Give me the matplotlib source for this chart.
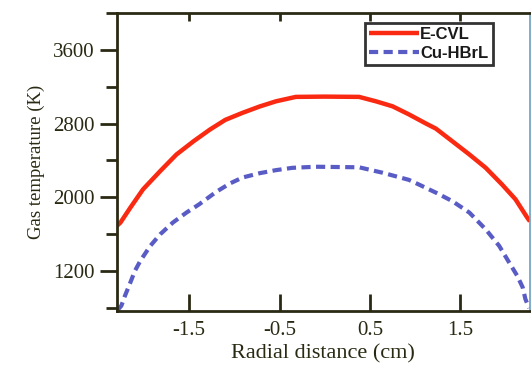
import numpy as np
import matplotlib
matplotlib.use('Agg')
import matplotlib.pyplot as plt
from matplotlib.ticker import MultipleLocator

# Values
r_ecvl = [-2.30, -2.26, -2.15, -2.01, -1.82, -1.64, -1.45, -1.27, -1.10, -0.91,
          -0.72, -0.54, -0.32, 0.00, 0.38, 0.57, 0.75, 0.93, 1.12, 1.23,
          1.41, 1.60, 1.78, 1.96, 2.11, 2.24, 2.27]
t_ecvl = [1690, 1727, 1889, 2087, 2285, 2465, 2609, 2735, 2840, 2916,
          2985, 3041, 3089, 3092, 3089, 3040, 2987, 2900, 2800, 2745,
          2609, 2465, 2321, 2141, 1979, 1781, 1740]

r_cu = [-2.29, -2.25, -2.21, -2.15, -2.10, -2.04, -1.93, -1.82, -1.68, -1.53,
        -1.39, -1.20, -1.05, -0.91, -0.72, -0.54, -0.36, -0.10, 0.38, 0.64,
        0.93, 1.04, 1.23, 1.41, 1.60, 1.78, 1.93, 2.04, 2.13, 2.19,
        2.22, 2.26]
t_cu = [780, 825, 933, 1078, 1203, 1312, 1474, 1600, 1727, 1835,
        1924, 2060, 2150, 2215, 2262, 2295, 2320, 2332, 2326, 2267,
        2190, 2140, 2051, 1960, 1835, 1654, 1474, 1294, 1149, 1024,
        897, 800]

xticks = [-1.5, -0.5, 0.5, 1.5]
yticks = [1200, 2000, 2800, 3600]

serif = 'Liberation Serif'
dark = '#2a2a14'

fig = plt.figure(figsize=(5.31, 3.67), dpi=100)
ax = fig.add_axes([0.220, 0.153, 0.778, 0.812])

ax.plot(r_ecvl, t_ecvl, color='#fa2a12', lw=3.2, label='E-CVL',
        solid_capstyle='butt', solid_joinstyle='round')
ax.plot(r_cu, t_cu, color='#5a5cc6', lw=3.0, dashes=(2.2, 1.3),
        label='Cu-HBrL')

ax.set_xlim(-2.3, 2.27)
ax.set_ylim(770, 4000)
ax.set_xticks(xticks)
ax.set_xticklabels([str(v) for v in xticks])
ax.set_yticks(yticks)
ax.yaxis.set_minor_locator(MultipleLocator(400))

for s in ['left', 'bottom', 'top']:
    ax.spines[s].set_color(dark)
    ax.spines[s].set_linewidth(2.0)
ax.spines['right'].set_color('#6aa0c0')
ax.spines['right'].set_linewidth(1.2)

ax.tick_params(axis='x', direction='in', length=12, width=2, color=dark,
               pad=7, labelsize=15, labelcolor=dark)
ax.tick_params(axis='y', which='major', direction='out', length=12, width=2,
               color=dark, pad=4, labelsize=15, labelcolor=dark)
ax.tick_params(axis='y', which='minor', direction='out', length=8, width=2,
               color=dark)
for lab in ax.get_xticklabels() + ax.get_yticklabels():
    lab.set_family(serif)

top = ax.secondary_xaxis('top')
top.set_xticks(xticks)
top.tick_params(direction='in', length=6, width=2, color=dark, labeltop=False)
top.spines['top'].set_visible(False)

ax.set_xlabel('Radial distance (cm)', fontsize=16, family=serif,
              color=dark, labelpad=3)
ax.set_ylabel('Gas temperature (K)', fontsize=13.5, family=serif,
              color=dark, labelpad=6)

leg = ax.legend(loc='upper right', bbox_to_anchor=(0.91, 0.966),
                borderaxespad=0, fancybox=False, handlelength=3.0,
                handletextpad=0.1, labelspacing=0.25, borderpad=0.25,
                prop={'family': 'Liberation Sans', 'weight': 'bold', 'size': 12})
leg.get_frame().set_edgecolor('black')
leg.get_frame().set_linewidth(2.0)
for t in leg.get_texts():
    t.set_color('#1a1a1a')

fig.savefig('out.png', dpi=100, facecolor='white')
